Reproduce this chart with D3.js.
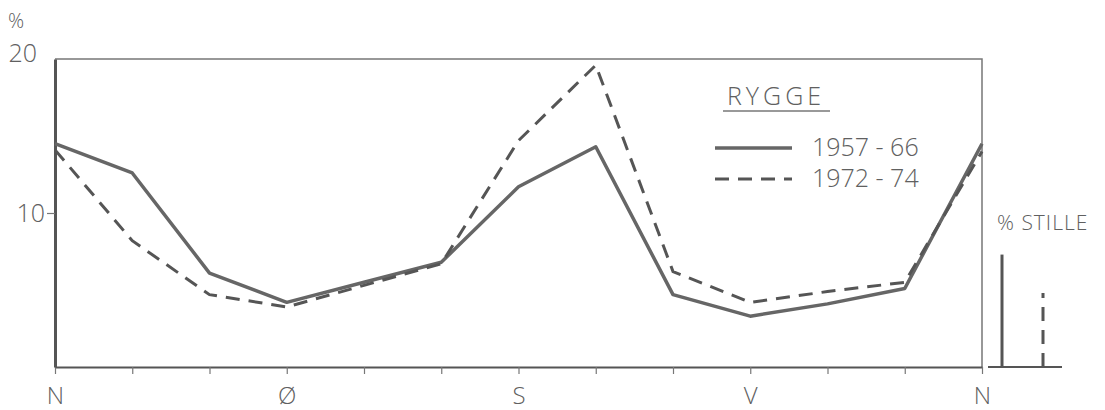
<!DOCTYPE html>
<html>
<head>
<meta charset="utf-8">
<script src="https://cdn.jsdelivr.net/npm/d3@7"></script>
<style>
  body { margin: 0; background: #fff; }
  text { font-family: "Open Sans", "DejaVu Sans", sans-serif; font-weight: 300; }
</style>
</head>
<body>
<svg id="chart" width="1105" height="410"></svg>
<script>
// wind directions (every 30 degrees), only the main ones are labelled
const directions = ["N", "", "", "Ø", "", "", "S", "", "", "V", "", "", "N"];
const yTicks = [10, 20];
const series1957 = [14.5, 12.6, 6.1, 4.2, 5.5, 6.8, 11.7, 14.3, 4.7, 3.3, 4.1, 5.1, 14.5];
const series1972 = [14.1, 8.2, 4.7, 3.9, 5.3, 6.7, 14.7, 19.6, 6.2, 4.2, 4.9, 5.5, 14.0];
const seriesNames = ["1957 - 66", "1972 - 74"];
const stille = [7.3, 4.8]; // % calm, 1957-66 and 1972-74
const title = "RYGGE";

const ink = "#555";
const txt = "#606060";
const svg = d3.select("#chart");
const margin = { left: 55, right: 123, top: 59, bottom: 43 };
const W = 1105, H = 410;

const x = d3.scaleLinear().domain([0, directions.length - 1]).range([margin.left, W - margin.right]);
const y = d3.scaleLinear().domain([0, 20]).range([H - margin.bottom, margin.top]);

// frame (top and right)
svg.append("path")
    .attr("d", `M${x(0)},${y(20)}H${x(12)}V${y(0)}`)
    .attr("fill", "none").attr("stroke", "#777").attr("stroke-width", 1.5);

// bottom axis
const xAxis = svg.append("g")
    .attr("transform", `translate(0,${y(0)})`)
    .attr("color", txt)
    .call(d3.axisBottom(x).tickValues(d3.range(directions.length))
        .tickFormat(i => directions[i]).tickSize(7).tickSizeOuter(0).tickPadding(13));
xAxis.select(".domain").attr("stroke", ink).attr("stroke-width", 2);
xAxis.selectAll(".tick line").attr("stroke", "#777").attr("stroke-width", 1.2);
xAxis.selectAll(".tick text").attr("font-size", 24);

// left axis
const yAxis = svg.append("g")
    .attr("transform", `translate(${x(0)},0)`)
    .attr("color", txt)
    .call(d3.axisLeft(y).tickValues(yTicks).tickSize(8).tickSizeOuter(0).tickPadding(10));
yAxis.select(".domain").attr("stroke", ink).attr("stroke-width", 3);
yAxis.selectAll(".tick line").attr("stroke", "#777").attr("stroke-width", 1.2)
    .attr("display", d => d === 20 ? "none" : null);
yAxis.selectAll(".tick text").attr("font-size", 25)
    .attr("x", d => d === 20 ? -18 : -10).attr("dy", d => d === 20 ? "0.1em" : "0.32em");

svg.append("text").attr("x", 8).attr("y", 28).attr("font-size", 20).attr("fill", txt).text("%");

// data lines
const line = d3.line().x((d, i) => x(i)).y(d => y(d));
svg.append("path").datum(series1957).attr("d", line)
    .attr("fill", "none").attr("stroke", "#666").attr("stroke-width", 3.5).attr("stroke-linejoin", "round");
svg.append("path").datum(series1972).attr("d", line)
    .attr("fill", "none").attr("stroke", ink).attr("stroke-width", 3).attr("stroke-dasharray", "14,9");

// legend
const lg = svg.append("g");
lg.append("text").attr("x", 727).attr("y", 105).attr("font-size", 25).attr("letter-spacing", 4)
    .attr("fill", txt).text(title);
lg.append("line").attr("x1", 723).attr("x2", 830).attr("y1", 111).attr("y2", 111)
    .attr("stroke", "#777").attr("stroke-width", 1.5);
[0, 1].forEach(k => {
    const yy = 148 + k * 31;
    lg.append("line").attr("x1", 715).attr("x2", 792).attr("y1", yy).attr("y2", yy)
        .attr("stroke", k ? ink : "#666").attr("stroke-width", k ? 3 : 3.5)
        .attr("stroke-dasharray", k ? "14,9" : null);
    lg.append("text").attr("x", 812).attr("y", yy + 8).attr("font-size", 25)
        .attr("fill", txt).text(seriesNames[k]);
});

// calm (stille) bars
svg.append("line").attr("x1", 988).attr("x2", 1062).attr("y1", y(0)).attr("y2", y(0))
    .attr("stroke", ink).attr("stroke-width", 2);
const bx = [1002, 1043];
stille.forEach((v, k) => {
    svg.append("line").attr("x1", bx[k]).attr("x2", bx[k]).attr("y1", y(0)).attr("y2", y(v))
        .attr("stroke", ink).attr("stroke-width", 3)
        .attr("stroke-dasharray", k ? "14,9" : null);
});
svg.append("text").attr("x", 997).attr("y", 230).attr("font-size", 21).attr("letter-spacing", 1)
    .attr("fill", txt).text("% STILLE");
</script>
</body>
</html>
